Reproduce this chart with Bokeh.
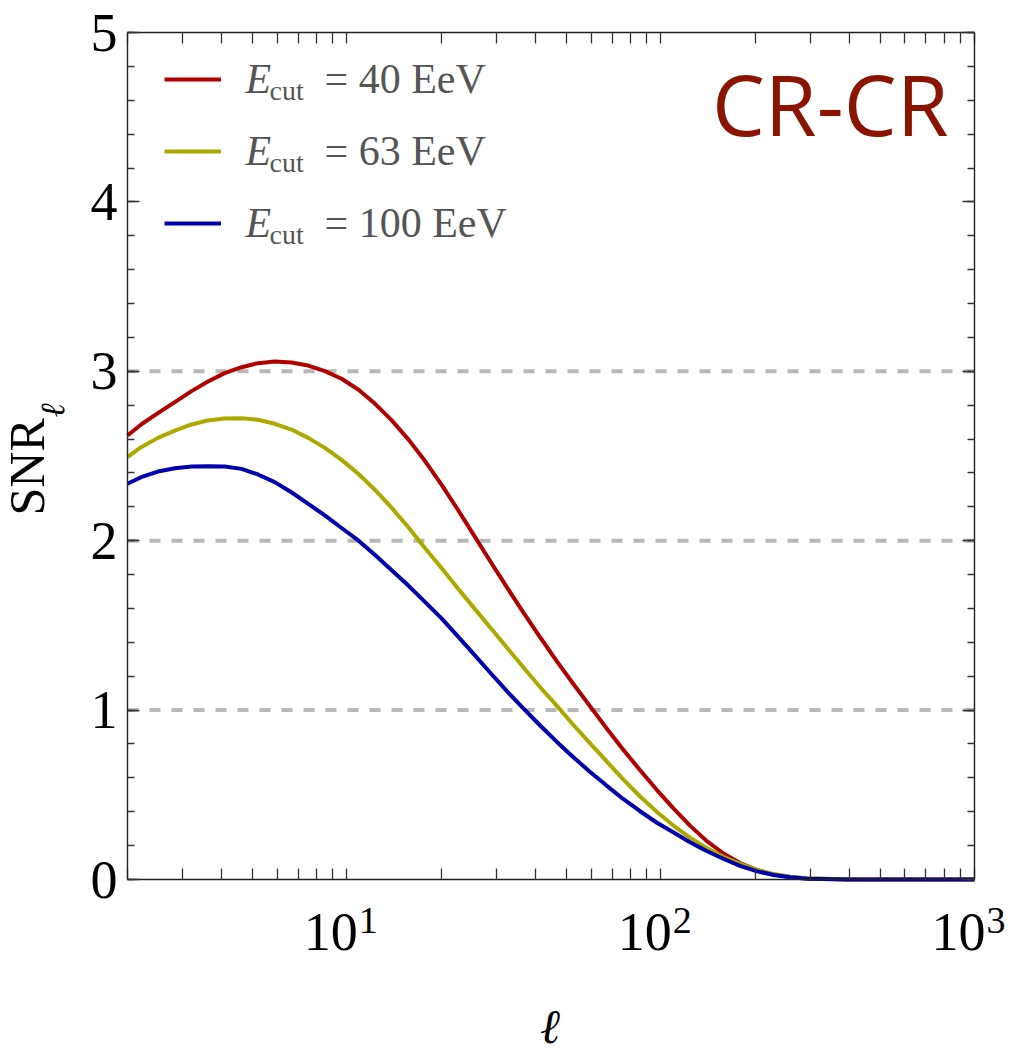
import math

from bokeh.embed import file_html
from bokeh.models import (CustomJSTickFormatter, FixedTicker, Label, Legend,
                          LegendItem, LinearAxis, LogAxis, Range1d,
                          SingleIntervalTicker)
from bokeh.plotting import figure
from bokeh.resources import INLINE

# multipole moments and the per-multipole signal-to-noise for each energy cut
ell = [2.0, 2.21, 2.50, 2.83, 3.20, 3.61, 4.08, 4.62, 5.21, 5.89, 6.66, 7.53,
       8.51, 9.62, 10.9, 12.3, 13.9, 15.7, 17.7, 20.0, 22.4, 25.3, 28.6, 32.3,
       36.5, 41.3, 46.7, 52.7, 59.6, 67.4, 76.1, 86.0, 97.3, 110, 124, 140,
       159, 179, 203, 229, 259, 293, 400, 1000]
snr_40 = [2.621, 2.686, 2.753, 2.818, 2.883, 2.940, 2.989, 3.024, 3.048, 3.058,
          3.052, 3.034, 3.001, 2.956, 2.891, 2.808, 2.710, 2.598, 2.473, 2.333,
          2.193, 2.037, 1.880, 1.727, 1.577, 1.430, 1.288, 1.154, 1.022, 0.890,
          0.765, 0.645, 0.528, 0.418, 0.318, 0.228, 0.152, 0.097, 0.056, 0.030,
          0.015, 0.006, 0.0, 0.0]
snr_63 = [2.493, 2.552, 2.607, 2.650, 2.686, 2.710, 2.721, 2.723, 2.714, 2.690,
          2.656, 2.607, 2.548, 2.477, 2.394, 2.300, 2.194, 2.079, 1.958, 1.840,
          1.726, 1.608, 1.489, 1.371, 1.253, 1.135, 1.025, 0.912, 0.804, 0.696,
          0.590, 0.490, 0.398, 0.317, 0.247, 0.186, 0.133, 0.092, 0.056, 0.032,
          0.016, 0.007, 0.0, 0.0]
snr_100 = [2.336, 2.375, 2.408, 2.428, 2.438, 2.440, 2.438, 2.424, 2.391, 2.346,
           2.286, 2.217, 2.150, 2.075, 2.000, 1.915, 1.825, 1.735, 1.640, 1.543,
           1.443, 1.333, 1.222, 1.113, 1.010, 0.909, 0.812, 0.722, 0.635, 0.553,
           0.474, 0.403, 0.335, 0.277, 0.220, 0.168, 0.121, 0.080, 0.048, 0.027,
           0.013, 0.005, 0.0, 0.0]
e_cut = [40, 63, 100]
series = [snr_40, snr_63, snr_100]
colors = ["#B00000", "#ACA800", "#0000AE"]

x_lim = (2, 1000)
y_lim = (0, 5)
x_decades = [1, 2, 3]
guide_levels = [1, 2, 3]

SERIF = "Liberation Serif"
LIFT = 0.4  # raises an alphabetic-baseline label onto its intended baseline

# page geometry: the axes box sits inside a canvas that is one big frame,
# so every text can live anywhere on the canvas
W, H = 1014, 1052
BOX_L, BOX_R, BOX_T, BOX_B = 127, 974, 32, 879

lx0, lx1 = math.log10(x_lim[0]), math.log10(x_lim[1])
dx = (lx1 - lx0) / (BOX_R - BOX_L)
dy = (y_lim[1] - y_lim[0]) / (BOX_B - BOX_T)
x_range = Range1d(10 ** (lx0 - BOX_L * dx), 10 ** (lx1 + (W - BOX_R) * dx))
y_range = Range1d(y_lim[0] - (H - BOX_B) * dy, y_lim[1] + BOX_T * dy)

p = figure(width=W, height=H, x_axis_type="log", x_range=x_range, y_range=y_range,
           min_border=0, min_border_left=0, min_border_right=0,
           min_border_top=0, min_border_bottom=0, title=None,
           output_backend="svg", toolbar_location=None)
p.outline_line_color = None
p.background_fill_color = "white"
p.border_fill_color = "white"

# log ticks: majors at the decades, minors at 2..9 of each decade
major_x = [10 ** d for d in x_decades]
minor_x = [m * 10 ** d for d in range(0, 3) for m in range(2, 10)]
x_ticker = FixedTicker(ticks=major_x, minor_ticks=minor_x)
y_ticker = SingleIntervalTicker(interval=1, num_minor_ticks=5)

blank = CustomJSTickFormatter(code="return ''")


def style_axis(ax, major_in, minor_in):
    ax.axis_line_color = "#222222"
    ax.axis_line_width = 1.4
    ax.major_tick_in = major_in
    ax.major_tick_out = 0
    ax.minor_tick_in = minor_in
    ax.minor_tick_out = 0
    ax.major_tick_line_color = "#333333"
    ax.minor_tick_line_color = "#333333"
    ax.major_tick_line_width = 1.3
    ax.minor_tick_line_width = 1.3


xb = p.xaxis[0]
xb.ticker = x_ticker
xb.formatter = blank
xb.major_label_text_font_size = "0px"
xb.fixed_location = y_lim[0]
xb.bounds = x_lim
style_axis(xb, 11, 11)

yl = p.yaxis[0]
yl.ticker = y_ticker
yl.fixed_location = x_lim[0]
yl.bounds = y_lim
style_axis(yl, 12, 7)
yl.major_label_text_font = SERIF
yl.major_label_text_font_size = "54px"
yl.major_label_text_color = "black"
yl.major_label_standoff = 10

top = LogAxis(ticker=x_ticker, formatter=blank, major_label_text_font_size="0px",
              fixed_location=y_lim[1], bounds=x_lim)
style_axis(top, 11, 11)
p.add_layout(top, "above")

right = LinearAxis(ticker=y_ticker, formatter=blank, major_label_text_font_size="0px",
                   fixed_location=x_lim[1], bounds=y_lim)
style_axis(right, 12, 7)
p.add_layout(right, "right")

# dashed reference levels across the axes box only
p.grid.visible = False
n_guides = len(guide_levels)
p.segment(x0=[x_lim[0]] * n_guides, y0=guide_levels,
          x1=[x_lim[1]] * n_guides, y1=guide_levels,
          line_color="#B8B8B8", line_width=4, line_dash="11 11", level="underlay")

items = []
for vals, color in zip(series, colors):
    r = p.line(ell, vals, line_color=color, line_width=4)
    items.append(LegendItem(label=" ", renderers=[r]))

ROW = 72
legend = Legend(items=items, location=(164, H - 233), margin=0, padding=0,
                glyph_width=57, glyph_height=20, label_height=20, label_width=0,
                spacing=ROW - 20, label_standoff=0, label_text_font_size="1px",
                background_fill_alpha=0, border_line_alpha=0)
p.add_layout(legend)


def text(txt, x, base_y, size, **kw):
    """Label in canvas pixels (y downwards) with its alphabetic baseline at base_y."""
    opts = dict(text_font=SERIF, text_font_size=f"{size}px", text_baseline="alphabetic",
                text_color="black")
    opts.update(kw)
    lab = Label(text=txt, x=x, y=H - base_y + LIFT * size, x_units="screen",
                y_units="screen", **opts)
    p.add_layout(lab)
    return lab


# legend texts: E_cut = N EeV
for i, e in enumerate(e_cut):
    base = 95 + ROW * i
    text("E", 245, base, 42, text_font_style="italic", text_color="#555555")
    text("cut", 269, base + 6, 28, text_color="#555555")
    text(f"= {e} EeV", 324, base, 42, text_color="#555555")

text("CR-CR", 948, 137, 84, text_align="right", text_color="#8A1400",
     text_font="Open Sans")

# decade labels 10^n under the bottom axis
for d in x_decades:
    for txt, base, size, off, align in (("10", 953, 54, 11, "right"),
                                        (str(d), 935, 38, 12, "left")):
        p.add_layout(Label(text=txt, x=10 ** d, y=H - base + LIFT * size,
                           y_units="screen", x_offset=off, text_align=align,
                           text_baseline="alphabetic", text_font=SERIF,
                           text_font_size=f"{size}px", text_color="black"))

# axis titles; the rotated ones read upwards, so their baseline is a column x
for txt, base_x, start_y, size, style in (("SNR", 46, 515, 50, "normal"),
                                          ("ℓ", 66, 417, 34, "italic")):
    p.add_layout(Label(text=txt, x=base_x - LIFT * size, y=H - start_y,
                       x_units="screen", y_units="screen", angle=math.pi / 2,
                       text_align="left", text_baseline="alphabetic",
                       text_font=SERIF, text_font_style=style,
                       text_font_size=f"{size}px", text_color="black"))
text("ℓ", (BOX_L + BOX_R) / 2, 1045, 48, text_align="center",
     text_font_style="bold italic")

open("out.html", "w").write(file_html(p, INLINE))
